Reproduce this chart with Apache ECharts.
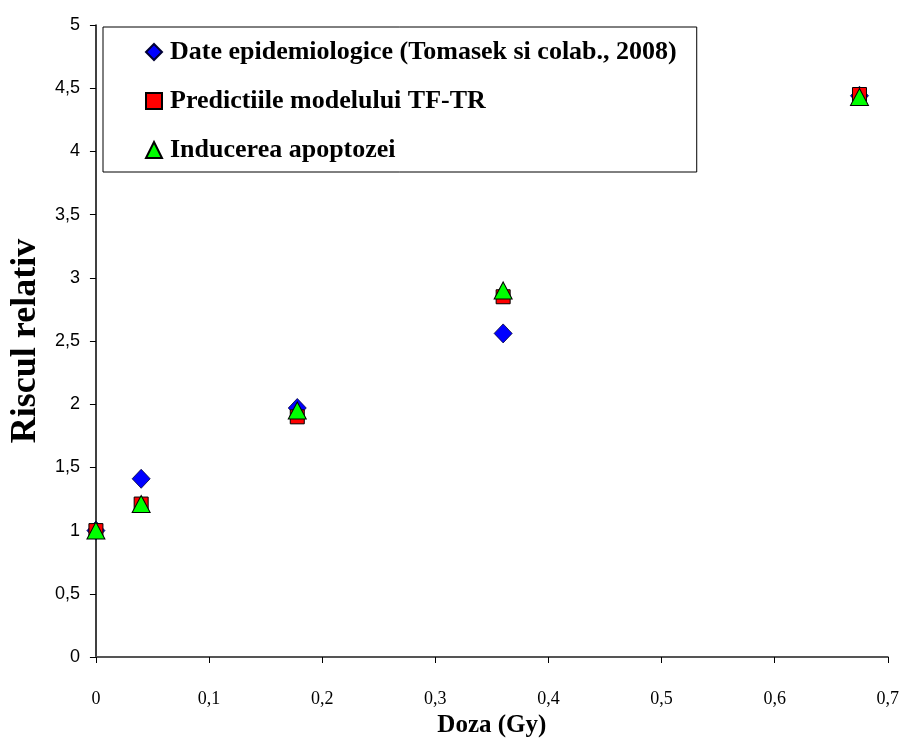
<!DOCTYPE html>
<html>
<head>
<meta charset="utf-8">
<script src="https://cdn.jsdelivr.net/npm/echarts@6/dist/echarts.min.js"></script>
<style>
  html, body { margin: 0; padding: 0; background: #fff; }
  #chart { width: 902px; height: 751px; }
</style>
</head>
<body>
<div id="chart"></div>
<script>
// Doza (Gy) for each measurement point
const doses = [0, 0.04, 0.178, 0.36, 0.675];

// Riscul relativ per series
const epidemiologic = [1.0, 1.41, 1.97, 2.56, 4.44];
const modelTFTR = [1.0, 1.21, 1.90, 2.85, 4.45];
const apoptoza = [1.0, 1.21, 1.95, 2.90, 4.43];

const seriesNames = [
  'Date epidemiologice (Tomasek si colab., 2008)',
  'Predictiile modelului TF-TR',
  'Inducerea apoptozei'
];

const xTicks = ['0', '0,1', '0,2', '0,3', '0,4', '0,5', '0,6', '0,7'];

const pairs = (ys) => doses.map((d, i) => [d, ys[i]]);
const fmtComma = (v) => String(Math.round(v * 10) / 10).replace('.', ',');

const serif = '"Liberation Serif", "Times New Roman", serif';

const chart = echarts.init(document.getElementById('chart'), null, { renderer: 'canvas' });

chart.setOption({
  backgroundColor: '#ffffff',
  animation: false,
  grid: { left: 94, right: 14, top: 25, bottom: 94, containLabel: false },
  legend: {
    orient: 'vertical',
    left: 103,
    top: 27,
    padding: [12, 20, 9, 42],
    itemGap: 23,
    itemWidth: 16,
    itemHeight: 16,
    borderColor: '#000',
    borderWidth: 1,
    backgroundColor: '#fff',
    textStyle: {
      fontFamily: serif,
      fontWeight: 'bold',
      fontSize: 26,
      color: '#000',
      padding: [0, 0, 0, 3]
    },
    data: [
      { name: seriesNames[0], icon: 'diamond' },
      { name: seriesNames[1], icon: 'rect' },
      { name: seriesNames[2], icon: 'triangle' }
    ]
  },
  xAxis: {
    type: 'value',
    min: 0,
    max: 0.7,
    interval: 0.1,
    name: 'Doza (Gy)',
    nameLocation: 'middle',
    nameGap: 42,
    nameTextStyle: {
      fontFamily: serif,
      fontWeight: 'bold',
      fontSize: 25,
      color: '#000'
    },
    axisLine: { show: true, lineStyle: { color: '#555', width: 2 } },
    axisTick: { show: true, inside: false, length: 6, lineStyle: { color: '#000', width: 1 } },
    splitLine: { show: false },
    axisLabel: {
      margin: 33,
      fontFamily: serif,
      fontSize: 18,
      color: '#000',
      formatter: (v) => xTicks[Math.round(v * 10)]
    }
  },
  yAxis: {
    type: 'value',
    min: 0,
    max: 5,
    interval: 0.5,
    name: 'Riscul relativ',
    nameLocation: 'middle',
    nameGap: 50,
    nameRotate: 90,
    nameTextStyle: {
      fontFamily: serif,
      fontWeight: 'bold',
      fontSize: 36,
      color: '#000'
    },
    axisLine: { show: true, lineStyle: { color: '#000', width: 1.5 } },
    axisTick: { show: true, inside: false, length: 6, lineStyle: { color: '#000', width: 1 } },
    splitLine: { show: false },
    axisLabel: {
      margin: 16,
      fontFamily: '"Liberation Sans", Arial, sans-serif',
      fontSize: 18,
      color: '#000',
      formatter: fmtComma
    }
  },
  series: [
    {
      name: seriesNames[0],
      type: 'scatter',
      symbol: 'diamond',
      symbolSize: [18, 19],
      itemStyle: { color: '#0000ff', borderColor: '#000033', borderWidth: 0.8, opacity: 1 },
      data: pairs(epidemiologic)
    },
    {
      name: seriesNames[1],
      type: 'scatter',
      symbol: 'rect',
      symbolSize: [14, 14],
      itemStyle: { color: '#ff0000', borderColor: '#000', borderWidth: 1, opacity: 1 },
      data: pairs(modelTFTR)
    },
    {
      name: seriesNames[2],
      type: 'scatter',
      symbol: 'triangle',
      symbolSize: [18, 17],
      itemStyle: { color: '#00ff00', borderColor: '#000', borderWidth: 1, opacity: 1 },
      data: pairs(apoptoza)
    }
  ]
});
</script>
</body>
</html>
